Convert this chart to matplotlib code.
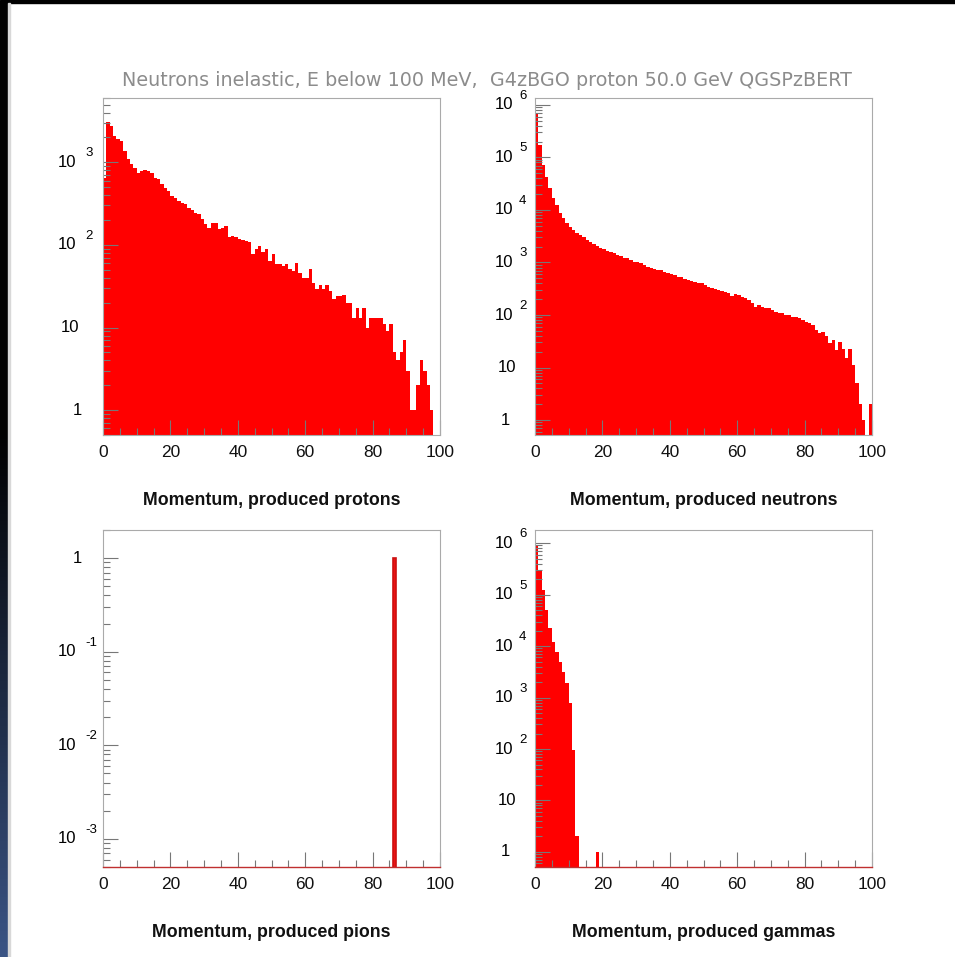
import numpy as np
import matplotlib
matplotlib.use('Agg')
import matplotlib.pyplot as plt
from matplotlib.ticker import MultipleLocator, LogLocator, NullFormatter
from matplotlib.transforms import blended_transform_factory, ScaledTranslation

plt.rcParams['font.family'] = ['Liberation Sans', 'DejaVu Sans']

title = 'Neutrons inelastic, E below 100 MeV,  G4zBGO proton 50.0 GeV QGSPzBERT'
edges = np.arange(0, 101)

# counts per 1-unit momentum bin
protons = [653, 3076, 2754, 2083, 1897, 1811, 1371, 1087, 946, 861,
           750, 785, 807, 785, 750, 653, 623, 542, 494, 450,
           392, 374, 341, 325, 310, 283, 265, 246, 235, 204,
           178, 162, 186, 186, 155, 162, 170, 123, 128, 123,
           117, 115, 112, 107, 77, 89, 97, 81, 89, 64,
           77, 58, 58, 56, 58, 51, 48, 61, 46, 40,
           40, 51, 35, 29, 33, 29, 33, 28, 22, 24,
           24, 25, 20, 20, 13, 17, 13, 17, 10, 13,
           13, 13, 13, 11, 9, 11, 5, 4, 5, 7,
           3, 1, 1, 2, 4, 3, 2, 1, 0, 0]
neutrons = [690000, 170000, 72000, 43000, 26000, 16600, 12500, 8700, 6900, 5600,
            4800, 4200, 3700, 3300, 3000, 2700, 2400, 2200, 2060, 1900,
            1780, 1680, 1560, 1490, 1390, 1300, 1240, 1200, 1120, 1040,
            1000, 960, 900, 830, 780, 750, 720, 720, 670, 620,
            600, 580, 540, 520, 490, 465, 450, 430, 415, 400,
            370, 345, 330, 310, 300, 290, 280, 260, 230, 247,
            240, 223, 208, 194, 167, 144, 155, 144, 134, 134,
            124, 116, 108, 108, 100, 100, 93, 93, 87, 80,
            75, 69, 64, 52, 45, 48, 39, 29, 33, 22,
            31, 23, 15, 23, 11, 5, 2, 1, 0, 2]
pion_bins = [86]
pion_counts = [1]
gammas_low = [910000, 300000, 123000, 50000, 22000, 12000, 7800, 5000, 3200, 1900,
              770, 96, 2, 0, 0, 0, 0, 0, 1, 0]

pions = np.zeros(100)
pions[pion_bins] = pion_counts
gammas = np.zeros(100)
gammas[:len(gammas_low)] = gammas_low

panels = [
    ('Momentum, produced protons', protons, (0.5, 6000), range(0, 4), 'tl'),
    ('Momentum, produced neutrons', neutrons, (0.52, 1.35e6), range(0, 7), 'tr'),
    ('Momentum, produced pions', pions, (5e-4, 2.0), range(-3, 1), 'bl'),
    ('Momentum, produced gammas', gammas, (0.51, 1.8e6), range(0, 7), 'br'),
]

fig = plt.figure(figsize=(9.55, 9.57), dpi=100)
W, H = 955.0, 957.0
boxes = {'tl': (103, 98), 'tr': (535, 98), 'bl': (103, 530), 'br': (535, 530)}
aw, ah = 337, 337

def decade_labels(ax, decades, base_r, one_r, exp_l):
    tr = blended_transform_factory(ax.transAxes, ax.transData)
    for d in decades:
        v = 10.0 ** d
        if d == 0:
            ax.text(-one_r / aw, v, '1', transform=tr, ha='right', va='center', fontsize=12)
        elif d == 1:
            ax.text(-(base_r - 3) / aw, v, '10', transform=tr, ha='right', va='center', fontsize=12)
        else:
            ax.text(-base_r / aw, v, '10', transform=tr, ha='right', va='center', fontsize=12)
            up = tr + ScaledTranslation(0, 9 / 100, fig.dpi_scale_trans)
            ax.text(-exp_l / aw, v, str(d), transform=up, ha='left', va='center', fontsize=9.5)

for name, counts, ylim, decades, key in panels:
    x0, y0 = boxes[key]
    ax = fig.add_axes([x0 / W, 1 - (y0 + ah) / H, aw / W, ah / H])
    ax.bar(edges[:-1], counts, width=1, align='edge', color='#ff0000', linewidth=0,
           antialiased=False, log=True)
    if key == 'bl':
        ax.bar(edges[:-1], counts, width=1, align='edge', color='#ee1111',
               edgecolor='#cc1111', linewidth=1.2, log=True)
    ax.set_xlim(0, 100)
    ax.set_yscale('log')
    ax.set_ylim(*ylim)
    ax.xaxis.set_major_locator(MultipleLocator(20))
    ax.xaxis.set_minor_locator(MultipleLocator(5))
    ax.yaxis.set_major_locator(LogLocator(base=10, numticks=20))
    ax.yaxis.set_minor_locator(LogLocator(base=10, subs=np.arange(2, 10), numticks=20))
    ax.yaxis.set_major_formatter(NullFormatter())
    ax.yaxis.set_minor_formatter(NullFormatter())
    ax.tick_params(axis='both', which='both', direction='in', top=False, right=False,
                   color='#777777', width=0.8)
    ax.tick_params(axis='both', which='major', length=11)
    ax.tick_params(axis='both', which='minor', length=5)
    ax.tick_params(axis='x', labelsize=12.5, pad=7, labelcolor='#111111')
    for s in ax.spines.values():
        s.set_color('#aaaaaa')
        s.set_linewidth(0.8)
    if key in ('bl', 'br'):
        ax.spines['bottom'].set_color('#c03030')
        ax.spines['bottom'].set_linewidth(1.0)
    if key[1] == 'l':
        decade_labels(ax, decades, 27, 21, 18)
    else:
        decade_labels(ax, decades, 22, 25, 16)
    ax.set_xlabel(name, fontsize=12.8, fontweight='bold', labelpad=23, color='#111111')

fig.text(487 / W, 1 - 81 / H, title, ha='center', va='center', fontsize=13.8,
         color='#8c8c8c', family=['DejaVu Sans'])

# dark window border: top band and left gradient strip
fig.add_artist(plt.Rectangle((0, 1 - 3 / H), 1, 3 / H, transform=fig.transFigure,
                             color='black', zorder=10))
strip = fig.add_axes([0, 0, 8 / W, 1 - 3 / H])
grad = np.linspace(0, 1, 256)
top_c = np.array([0.0, 0.0, 0.0])
bot_c = np.array([0.23, 0.33, 0.52])
mix = np.clip((grad - 0.45) / 0.55, 0, 1)[:, None]
img = (top_c * (1 - mix) + bot_c * mix)[:, None, :]
strip.imshow(img, aspect='auto', extent=(0, 1, 0, 1), origin='upper')
strip.axis('off')
fig.add_artist(plt.Rectangle((8 / W, 0), 1.5 / W, 1 - 3 / H, transform=fig.transFigure,
                             color='#d8d8d8', zorder=10))

fig.savefig('out.png', dpi=100)
